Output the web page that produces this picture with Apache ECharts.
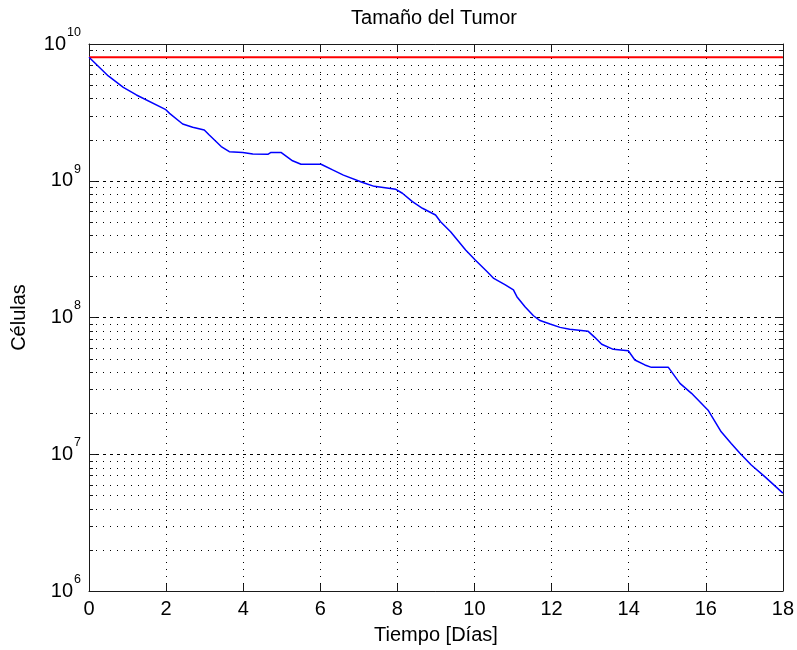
<!DOCTYPE html>
<html>
<head>
<meta charset="utf-8">
<script src="https://cdn.jsdelivr.net/npm/echarts@6/dist/echarts.min.js"></script>
<style>
  html, body { margin: 0; padding: 0; background: #ffffff; }
  #chart { width: 797px; height: 650px; }
</style>
</head>
<body>
<div id="chart"></div>
<script>
// Tumour size over time (log scale), with the reference ceiling in red
const days = [0, 0.5, 0.89, 1.23, 1.98, 2.09, 2.43, 2.69, 2.99, 3.12, 3.43, 3.64, 3.99, 4.25, 4.64, 4.72, 4.98,
  5.28, 5.5, 6.02, 6.32, 6.6, 7.1, 7.4, 7.96, 8.13, 8.39, 8.65, 8.99, 9.12, 9.38, 9.77, 10.02, 10.33, 10.5,
  10.8, 11.01, 11.1, 11.31, 11.53, 11.7, 11.96, 12.22, 12.47, 12.95, 13.12, 13.3, 13.6, 13.99, 14.16, 14.42,
  14.59, 15.03, 15.33, 15.63, 16.06, 16.4, 16.66, 16.88, 17.18, 17.53, 18];
const cells = [8.0e9, 5.84e9, 4.82e9, 4.24e9, 3.33e9, 3.11e9, 2.6e9, 2.46e9, 2.35e9, 2.16e9, 1.78e9, 1.63e9,
  1.61e9, 1.57e9, 1.56e9, 1.61e9, 1.61e9, 1.40e9, 1.32e9, 1.32e9, 1.2e9, 1.10e9, 9.7e8, 9.1e8, 8.65e8, 8.1e8,
  7.03e8, 6.29e8, 5.62e8, 5.02e8, 4.24e8, 3.12e8, 2.63e8, 2.16e8, 1.93e8, 1.73e8, 1.59e8, 1.42e8, 1.2e8,
  1.03e8, 9.5e7, 8.96e7, 8.47e7, 8.2e7, 7.92e7, 7.16e7, 6.37e7, 5.85e7, 5.71e7, 4.89e7, 4.5e7, 4.32e7, 4.32e7,
  3.3e7, 2.79e7, 2.1e7, 1.46e7, 1.2e7, 1.02e7, 8.35e6, 6.86e6, 5.2e6];

const limitDays = [0, 18];
const limitCells = [8e9, 8e9];

// axis ranges and tick labels
const xMin = 0, xMax = 18, xStep = 2;
const yExponents = [6, 7, 8, 9, 10];
const minorMultipliers = [2, 3, 4, 5, 6, 7, 8, 9];

const FONT = '"Liberation Sans", Arial, sans-serif';
const FS = 20;

// minor log grid values between the decades
const minorValues = [];
for (let i = 0; i < yExponents.length - 1; i++) {
  for (const m of minorMultipliers) minorValues.push([xMin, m * Math.pow(10, yExponents[i])]);
}

const chart = echarts.init(document.getElementById('chart'), null, { renderer: 'canvas' });

const axisLineStyle = { color: '#1a1a1a', width: 1 };

chart.setOption({
  animation: false,
  backgroundColor: '#ffffff',
  title: {
    text: 'Tamaño del Tumor',
    left: 429,
    textAlign: 'center',
    top: 3,
    textStyle: { fontFamily: FONT, fontSize: FS, fontWeight: 'normal', color: '#000' }
  },
  grid: { left: 89, right: 12, top: 44, bottom: 59, containLabel: false },
  xAxis: [{
    type: 'value', min: xMin, max: xMax, interval: xStep, position: 'bottom',
    name: 'Tiempo [Días]', nameLocation: 'middle', nameGap: 34,
    nameTextStyle: { fontFamily: FONT, fontSize: FS, color: '#000' },
    axisLine: { show: true, onZero: false, lineStyle: axisLineStyle },
    axisTick: { show: true, inside: true, length: 7, lineStyle: axisLineStyle },
    axisLabel: { fontFamily: FONT, fontSize: FS, color: '#000', margin: 8 },
    splitLine: { show: true, lineStyle: { color: '#000', width: 1, type: [1, 6] } }
  }, {
    type: 'value', min: xMin, max: xMax, interval: xStep, position: 'top',
    axisLine: { show: true, onZero: false, lineStyle: axisLineStyle },
    axisTick: { show: true, inside: true, length: 7, lineStyle: axisLineStyle },
    axisLabel: { show: false },
    splitLine: { show: false }
  }],
  yAxis: [{
    type: 'log', logBase: 10, min: Math.pow(10, yExponents[0]), max: Math.pow(10, yExponents[yExponents.length - 1]),
    position: 'left',
    name: 'Células', nameLocation: 'middle', nameGap: 60, nameRotate: 90,
    nameTextStyle: { fontFamily: FONT, fontSize: FS, color: '#000' },
    axisLine: { show: true, onZero: false, lineStyle: axisLineStyle },
    axisTick: { show: true, inside: true, length: 7, lineStyle: axisLineStyle },
    axisLabel: {
      margin: 8,
      formatter: v => '{b|10}{s|' + Math.round(Math.log10(v)) + '}',
      rich: {
        b: { fontFamily: FONT, fontSize: FS, color: '#000', lineHeight: 36 },
        s: { fontFamily: FONT, fontSize: 12.5, color: '#000', lineHeight: 14, verticalAlign: 'top', padding: [0, 0, 0, 1] }
      }
    },
    splitLine: { show: true, lineStyle: { color: '#000', width: 1, type: [3, 4] } }
  }, {
    type: 'log', logBase: 10, min: Math.pow(10, yExponents[0]), max: Math.pow(10, yExponents[yExponents.length - 1]),
    position: 'right',
    axisLine: { show: true, onZero: false, lineStyle: axisLineStyle },
    axisTick: { show: true, inside: true, length: 7, lineStyle: axisLineStyle },
    axisLabel: { show: false },
    splitLine: { show: false }
  }],
  series: [{
    // dotted minor grid with short ticks on both sides
    type: 'custom', xAxisIndex: 0, yAxisIndex: 0, silent: true, clip: false, z: 1,
    data: minorValues,
    encode: { x: 0, y: 1 },
    renderItem: (params, api) => {
      const v = api.value(1);
      const a = api.coord([xMin, v]);
      const b = api.coord([xMax, v]);
      const y = Math.round(a[1]) + 0.5;
      return {
        type: 'group',
        children: [
          { type: 'line', shape: { x1: a[0], y1: y, x2: b[0], y2: y }, style: { stroke: '#000', lineWidth: 1, lineDash: [1, 6] } },
          { type: 'line', shape: { x1: a[0], y1: y, x2: a[0] + 4, y2: y }, style: { stroke: '#1a1a1a', lineWidth: 1 } },
          { type: 'line', shape: { x1: b[0] - 4, y1: y, x2: b[0], y2: y }, style: { stroke: '#1a1a1a', lineWidth: 1 } }
        ]
      };
    }
  }, {
    type: 'line', xAxisIndex: 0, yAxisIndex: 0, z: 3,
    data: limitDays.map((d, i) => [d, limitCells[i]]),
    showSymbol: false, symbol: 'none',
    lineStyle: { color: '#ff0000', width: 2 }
  }, {
    type: 'line', xAxisIndex: 0, yAxisIndex: 0, z: 4,
    data: days.map((d, i) => [d, cells[i]]),
    showSymbol: false, symbol: 'none',
    lineStyle: { color: '#0000ff', width: 1.5 }
  }]
});
</script>
</body>
</html>
